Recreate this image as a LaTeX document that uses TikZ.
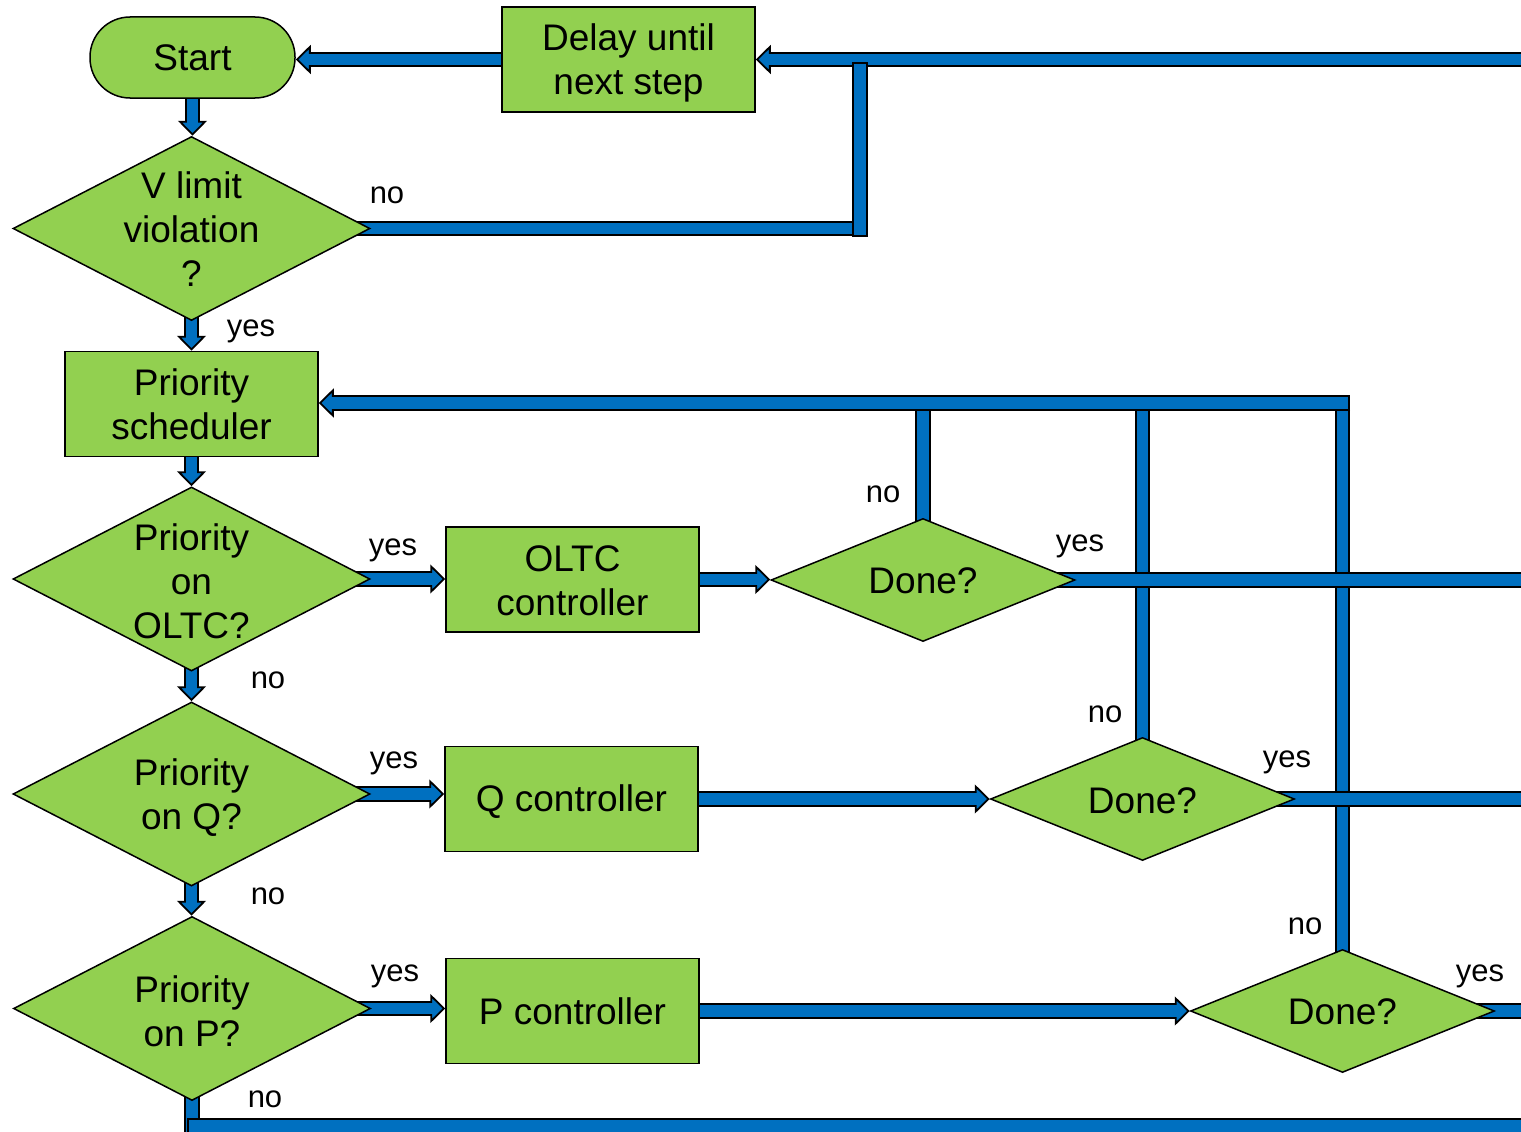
\documentclass[tikz,border=0pt]{standalone}
\usepackage{fontspec}
\setmainfont{Liberation Sans}
\usetikzlibrary{shapes.geometric,arrows.meta,backgrounds,calc}
\definecolor{pipeblue}{RGB}{0,112,192}
\definecolor{boxgreen}{RGB}{146,208,80}
\tikzset{
  pipeout/.style={draw=black, line width=15.5pt, line cap=butt},
  pipein/.style={draw=pipeblue, line width=11.5pt, line cap=butt},
  boxn/.style={draw=black, line width=1.5pt, fill=boxgreen, minimum width=253pt, minimum height=105pt, inner sep=0pt, align=center, font=\fontsize{37}{44}\selectfont},
  dia/.style={diamond, draw=black, line width=1.5pt, fill=boxgreen, inner sep=0pt, minimum width=357pt, minimum height=184pt},
  donedia/.style={diamond, draw=black, line width=1.5pt, fill=boxgreen, inner sep=0pt, minimum width=304pt, minimum height=123pt},
  txt/.style={font=\fontsize{37}{44}\selectfont, align=center, inner sep=0pt},
  lab/.style={font=\fontsize{31}{36}\selectfont, anchor=base, inner sep=0pt},
}
% pipe with arrow, starting under a node
\newcommand\pipeA[1]{%
  \draw[pipeout,shorten <=-25pt,-{Triangle[width=29pt,length=15pt,line width=1.8pt,fill=pipeblue]}] #1;
  \draw[pipein,shorten <=-25pt,shorten >=11pt] #1;}
% pipe with arrow, starting with a visible end cap
\newcommand\pipeAc[1]{%
  \draw[pipeout,-{Triangle[width=29pt,length=15pt,line width=1.8pt,fill=pipeblue]}] #1;
  \draw[pipein,shorten <=2pt,shorten >=11pt] #1;}
% pipe without arrow, starting under a node
\newcommand\pipeN[1]{%
  \draw[pipeout,shorten <=-25pt] #1;
  \draw[pipein,shorten <=-25pt,shorten >=2pt] #1;}
% pipe without arrow, capped at both ends
\newcommand\pipeL[1]{%
  \draw[pipeout] #1;
  \draw[pipein,shorten <=2pt,shorten >=2pt] #1;}
\begin{document}
\begin{tikzpicture}[x=1pt,y=-1pt]
\useasboundingbox (0,0) rectangle (1521,1132);
% nodes
\node[draw=black, line width=1.5pt, fill=boxgreen, rounded corners=40pt, minimum width=205pt, minimum height=81pt, inner sep=0pt, font=\fontsize{37}{44}\selectfont] (start) at (192.5,57.5) {Start};
\node[boxn] (delay) at (628.5,59.5) {};
\node[txt] (delayt) at (628.5,63) {Delay until\\next step};
\node[dia] (v1) at (191.5,228.5) {};
\node[txt] (v1t) at (191.5,229) {V limit\\violation\\?};
\node[boxn] (sched) at (191.5,404) {Priority\\scheduler};
\node[dia] (v2) at (191.5,579) {};
\node[txt] (v2t) at (191.5,581) {Priority\\on\\OLTC?};
\node[boxn] (oltc) at (572.5,579.5) {};
\node[txt] (oltct) at (572.5,581) {OLTC\\controller};
\node[donedia] (d1) at (923,580) {};
\node[txt] (d1t) at (923,581) {Done?};
\node[dia] (v3) at (191.5,794) {};
\node[txt] (v3t) at (191.5,798) {Priority\\on Q?};
\node[boxn] (qc) at (571.5,799) {};
\node[txt] (qct) at (571.5,801.5) {Q controller};
\node[donedia] (d2) at (1142.5,799) {};
\node[txt] (d2t) at (1142.5,800.5) {Done?};
\node[dia] (v4) at (192,1008.5) {};
\node[txt] (v4t) at (192,1011) {Priority\\on P?};
\node[boxn] (pc) at (572.5,1011) {P controller};
\node[donedia] (d3) at (1342.5,1011) {};
\node[txt] (d3t) at (1342.5,1012) {Done?};
% free coordinates
\coordinate (eTop) at (1535,59.5);
\coordinate (eR) at (1535,0);
\coordinate (j1) at (860,228.5);
\coordinate (j1t) at (860,62);
\coordinate (j1b) at (860,236.5);
\coordinate (tB) at (0,403);
\coordinate (tR) at (1350,403);
\coordinate (bB) at (0,1140);
\coordinate (bL) at (187,1126);
\coordinate (bR) at (1535,1126);
% labels
\node[lab] (l1) at (387,203) {no};
\node[lab] (l2) at (251,336) {yes};
\node[lab] (l3) at (393,555) {yes};
\node[lab] (l4) at (883,502) {no};
\node[lab] (l5) at (1080,551) {yes};
\node[lab] (l6) at (268,688) {no};
\node[lab] (l7) at (1105,722) {no};
\node[lab] (l8) at (394,768) {yes};
\node[lab] (l9) at (1287,767) {yes};
\node[lab] (l10) at (268,904) {no};
\node[lab] (l11) at (1305,934) {no};
\node[lab] (l12) at (395,981) {yes};
\node[lab] (l13) at (1480,981) {yes};
\node[lab] (l14) at (265,1107) {no};
% pipes
\begin{pgfonlayer}{background}
\clip (0,0) rectangle (1521,1132);
% vertical returns from Done? diamonds
\pipeN{(d1.north) -- (d1.north |- tB)}
\pipeN{(d2.north) -- (d2.north |- tB)}
\pipeN{(d3.north) -- (d3.north |- tB)}
\pipeAc{(tR) -- (tR -| sched.east)}
% yes exits
\pipeN{(d1.east) -- (d1.east -| eR)}
\pipeN{(d2.east) -- (d2.east -| eR)}
\pipeN{(d3.east) -- (d3.east -| eR)}
% main column
\pipeA{(start.south) -- (start.south |- v1.north)}
\pipeA{(v1.south) -- (v1.south |- sched.north)}
\pipeA{(sched.south) -- (sched.south |- v2.north)}
\pipeA{(v2.south) -- (v2.south |- v3.north)}
\pipeA{(v3.south) -- (v3.south |- v4.north)}
% to controllers
\pipeA{(v2.east) -- (v2.east -| oltc.west)}
\pipeA{(v3.east) -- (v3.east -| qc.west)}
\pipeA{(v4.east) -- (v4.east -| pc.west)}
\pipeA{(oltc.east) -- (oltc.east -| d1.west)}
\pipeA{(qc.east) -- (qc.east -| d2.west)}
\pipeA{(pc.east) -- (pc.east -| d3.west)}
% top
\pipeA{(delay.west) -- (delay.west -| start.east)}
\pipeAc{(eTop) -- (eTop -| delay.east)}
\pipeN{(v1.east) -- (j1)}
\pipeL{(j1b) -- (j1t)}
% bottom
\pipeN{(v4.south) -- (v4.south |- bB)}
\pipeL{(bL) -- (bR)}
\end{pgfonlayer}
\end{tikzpicture}
\end{document}
